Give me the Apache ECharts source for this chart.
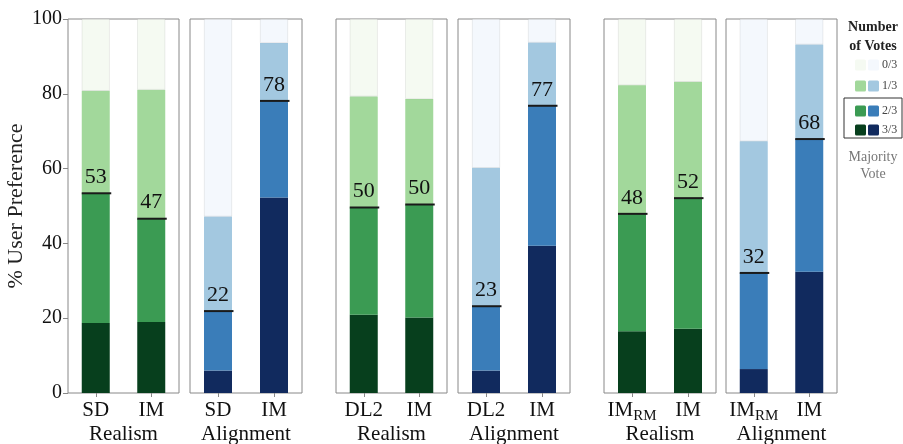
<!DOCTYPE html>
<html><head><meta charset="utf-8">
<script src="https://cdn.jsdelivr.net/npm/echarts@6.0.0/dist/echarts.min.js"></script>
<style>html,body{margin:0;padding:0;background:#fff}#c{width:903px;height:444px}</style>
</head><body><div id="c"></div>
<script>
// ---- data ----
const panelCategories = [['SD','IM'],['SD','IM'],['DL2','IM'],['DL2','IM'],['IM_RM','IM'],['IM_RM','IM']];
const panelNames = ['Realism','Alignment','Realism','Alignment','Realism','Alignment'];
const panelPalette = ['green','blue','green','blue','green','blue'];
// segment sizes (% of users), two bars per panel, in panel order
const votes3of3 = [18.7,19.0, 6.0,52.3, 20.9,20.2, 6.0,39.4, 16.5,17.2, 6.4,32.4];
const votes2of3 = [34.7,27.6, 15.9,25.8, 28.7,30.2, 17.2,37.4, 31.4,34.9, 25.7,35.5];
const votes1of3 = [27.4,34.5, 25.3,15.5, 29.7,28.2, 37.0,16.9, 34.4,31.1, 35.2,25.3];
const votes0of3 = [19.2,18.9, 52.8,6.4, 20.7,21.4, 39.8,6.3, 17.7,16.8, 32.7,6.8];
const majorityLabels = [53,47, 22,78, 50,50, 23,77, 48,52, 32,68];
const yTicks = [0,20,40,60,80,100];
const voteLevels = ['0/3','1/3','2/3','3/3'];

const colors = {
  green: ['#f5faf2','#a2d89b','#3b9b53','#073f1d'],
  blue:  ['#f4f8fd','#a3c8e0','#3a7db9','#112a5e']
};
const FONT = '"Liberation Serif", "DejaVu Serif", serif';
const gridLefts = [68,190,336,458,604,726];
const gridWidths = [111,112,111,112,112,111];

const grids=[], xAxes=[], yAxes=[], series=[];
for (let p=0;p<6;p++){
  grids.push({left:gridLefts[p], width:gridWidths[p], top:19, height:374, show:true, borderColor:'#888', borderWidth:1,
    backgroundColor:'transparent', containLabel:false, outerBoundsMode:'none'});
  xAxes.push({gridIndex:p, type:'category', data:panelCategories[p], boundaryGap:true,
    axisLine:{show:false}, axisTick:{show:true, alignWithLabel:true, length:4, lineStyle:{color:'#888'}},
    axisLabel:{interval:0, hideOverlap:false, fontFamily:FONT, fontSize:21, lineHeight:22, color:'#111', margin:6,
      formatter:v=> v.indexOf('_')>=0 ? '{a|'+v.split('_')[0]+'}{s|'+v.split('_')[1]+'}' : '{a|'+v+'}',
      rich:{a:{fontFamily:FONT,fontSize:21,lineHeight:22,color:'#111'}, s:{fontFamily:FONT,fontSize:15,lineHeight:22,color:'#111',verticalAlign:'bottom',padding:[0,0,-3,0]}}},
    name:panelNames[p], nameLocation:'middle', nameGap:31, nameMoveOverlap:false,
    nameTextStyle:{fontFamily:FONT, fontSize:21, color:'#111'}});
  const first = p===0;
  yAxes.push({gridIndex:p, type:'value', min:0, max:100, interval:20,
    splitLine:{show:false}, axisLine:{show:false},
    axisTick:{show:first, length:5, lineStyle:{color:'#888'}},
    axisLabel:{show:first, fontFamily:FONT, fontSize:20, color:'#111', margin:6},
    name: first ? '% User Preference' : '', nameLocation:'middle', nameGap:41, nameRotate:90, nameMoveOverlap:false,
    nameTextStyle:{fontFamily:FONT, fontSize:22, color:'#222'}});
  const pal = colors[panelPalette[p]];
  const layers = [votes3of3, votes2of3, votes1of3, votes0of3];
  const colIdx = [3,2,1,0];
  layers.forEach((arr,li)=>{
    series.push({type:'bar', xAxisIndex:p, yAxisIndex:p, stack:'s'+p, barWidth:28,
      data:[arr[2*p], arr[2*p+1]],
      itemStyle:{color:pal[colIdx[li]], borderColor: li===3 ? 'rgba(0,0,0,0.12)' : undefined, borderWidth: li===3 ? 0.6 : 0},
      emphasis:{disabled:true}, silent:true, animation:false});
  });
  series.push({type:'custom', xAxisIndex:p, yAxisIndex:p, z:10, animation:false, silent:true,
    data:[0,1].map(i=>[i, votes3of3[2*p+i]+votes2of3[2*p+i], majorityLabels[2*p+i]]),
    renderItem:(params, api)=>{
      const pt = api.coord([api.value(0), api.value(1)]);
      return {type:'group', children:[
        {type:'line', shape:{x1:pt[0]-14, y1:pt[1], x2:pt[0]+15.5, y2:pt[1]}, style:{stroke:'#1a1a1a', lineWidth:2}},
        {type:'text', style:{text:String(api.value(2)), x:pt[0], y:pt[1]-5, align:'center', verticalAlign:'bottom', fontFamily:FONT, fontSize:22, fill:'#111'}}
      ]};
    }});
}

// legend (graphic)
const legendRows = [65,86,111,130];
const legendGraphics = [
  {type:'text', style:{text:'Number', x:873, y:27, align:'center', verticalAlign:'middle', fontFamily:FONT, fontSize:14, fontWeight:'bold', fill:'#222'}},
  {type:'text', style:{text:'of Votes', x:873, y:46, align:'center', verticalAlign:'middle', fontFamily:FONT, fontSize:14, fontWeight:'bold', fill:'#222'}},
  {type:'rect', shape:{x:844, y:98, width:58, height:40}, style:{fill:'none', stroke:'#333', lineWidth:1}},
  {type:'text', style:{text:'Majority', x:873, y:157, align:'center', verticalAlign:'middle', fontFamily:FONT, fontSize:14, fill:'#777'}},
  {type:'text', style:{text:'Vote', x:873, y:174, align:'center', verticalAlign:'middle', fontFamily:FONT, fontSize:14, fill:'#777'}}
];
voteLevels.forEach((lv,i)=>{
  const y = legendRows[i];
  legendGraphics.push({type:'rect', shape:{x:855, y:y-5.5, width:11, height:11, r:1.5}, style:{fill:colors.green[i]}});
  legendGraphics.push({type:'rect', shape:{x:868, y:y-5.5, width:11, height:11, r:1.5}, style:{fill:colors.blue[i]}});
  legendGraphics.push({type:'text', style:{text:lv, x:882, y:y, align:'left', verticalAlign:'middle', fontFamily:FONT, fontSize:12, fill:'#444'}});
});

const chart = echarts.init(document.getElementById('c'), null, {renderer:'canvas'});
chart.setOption({animation:false, grid:grids, xAxis:xAxes, yAxis:yAxes, series:series, graphic:legendGraphics});
</script></body></html>
